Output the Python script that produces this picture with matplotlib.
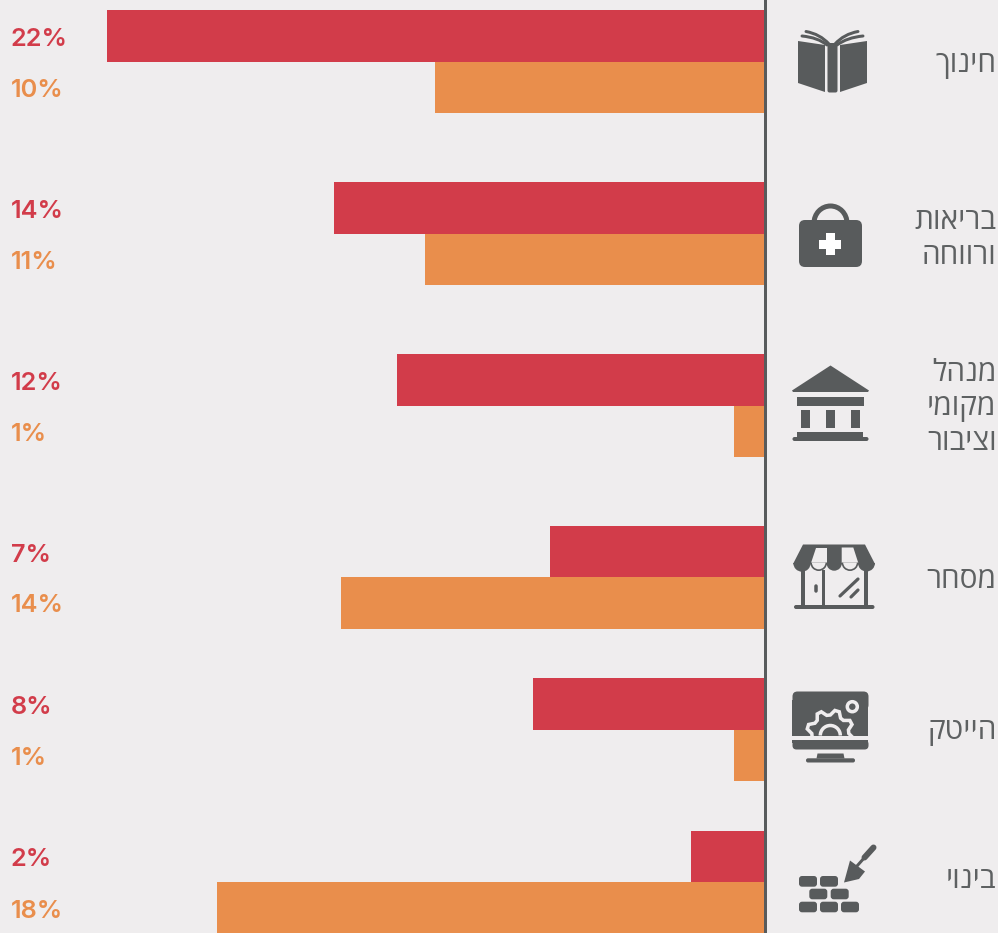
import numpy as np
import matplotlib
matplotlib.use("Agg")
import matplotlib.pyplot as plt
from matplotlib.patches import Polygon, Rectangle, FancyBboxPatch, Circle, Arc, PathPatch, Wedge
from matplotlib.path import Path

# data
categories = [["חינוך"], ["בריאות", "ורווחה"], ["מנהל", "מקומי", "וציבור"], ["מסחר"], ["הייטק"], ["בינוי"]]
red_values = [21.5, 14.1, 12.03, 7.03, 7.58, 2.42]
orange_values = [10.8, 11.1, 1.0, 13.87, 1.0, 17.9]
red_labels = ["22%", "14%", "12%", "7%", "8%", "2%"]
orange_labels = ["10%", "11%", "1%", "14%", "1%", "18%"]

# layout in pixels
W, H = 998, 933
zero_x = 765
px_per_unit = 30.6
group_y = [61.5, 233.5, 405.5, 577, 729.5, 882]
bar_h = 51.5
label_baselines = [[72], [229, 263.5], [381, 415, 449.5], [587.5], [738.5], [887.5]]

BG = "#efedee"
RED = "#d23c4a"
ORANGE = "#e98e4c"
DARK = "#585b5c"
TEXT = "#5e6162"
PT = 0.72  # one pixel in points at dpi 100

fig = plt.figure(figsize=(W / 100, H / 100), dpi=100, facecolor=BG)

# bars: value axis runs to the left, zero on the vertical line
ax = fig.add_axes([0, 0, 1, 1], facecolor=BG)
ax.set_xlim(zero_x / px_per_unit, (zero_x - W) / px_per_unit)
ax.set_ylim(H, 0)
ax.axis("off")
ax.barh(np.array(group_y) - bar_h / 2, red_values, height=bar_h, color=RED, linewidth=0)
ax.barh(np.array(group_y) + bar_h / 2, orange_values, height=bar_h, color=ORANGE, linewidth=0)
ax.axvline(0, color=DARK, linewidth=3 * PT)

# overlay in pixel coordinates for texts and icons
px = fig.add_axes([0, 0, 1, 1])
px.set_xlim(0, W)
px.set_ylim(H, 0)
px.axis("off")
px.patch.set_alpha(0)

for y, r, o in zip(group_y, red_labels, orange_labels):
    px.text(11, y - 22, r, color=RED, fontsize=18.2, family="Inter", weight="semibold", ha="left", va="center")
    px.text(11, y + 29, o, color=ORANGE, fontsize=18.2, family="Inter", weight="semibold", ha="left", va="center")

# hebrew has to be reversed by hand, matplotlib does no bidi
for baselines, lines in zip(label_baselines, categories):
    for b, word in zip(baselines, lines):
        px.text(996.5, b, word[::-1], color=TEXT, fontsize=21.5,
                family=["Open Sans", "Liberation Sans", "DejaVu Sans"], ha="right", va="baseline")


def poly(points, color=DARK):
    px.add_patch(Polygon(points, closed=True, facecolor=color, edgecolor="none"))


def rect(x0, y0, x1, y1, color=DARK):
    px.add_patch(Rectangle((x0, y0), x1 - x0, y1 - y0, facecolor=color, edgecolor="none"))


def rbox(x0, y0, x1, y1, r, color=DARK):
    px.add_patch(FancyBboxPatch((x0 + r, y0 + r), x1 - x0 - 2 * r, y1 - y0 - 2 * r,
                                boxstyle=f"round,pad={r},rounding_size={r}",
                                facecolor=color, edgecolor="none"))


def line(x0, y0, x1, y1, w, color=DARK):
    px.plot([x0, x1], [y0, y1], color=color, linewidth=w * PT, solid_capstyle="round")


def curve(p0, p1, p2, w, color=DARK):
    path = Path([p0, p1, p2], [Path.MOVETO, Path.CURVE3, Path.CURVE3])
    px.add_patch(PathPatch(path, facecolor="none", edgecolor=color, linewidth=w * PT, capstyle="round"))


# book
poly([(798, 41), (825, 45), (825, 92), (798, 83)])
poly([(867, 41), (840, 45), (840, 92), (867, 83)])
rbox(827.5, 43, 837.5, 92.5, 2)
curve((806, 31.5), (820, 34), (829, 44), 3)
curve((802, 36), (818, 37.5), (827, 45), 3)
curve((858, 31.5), (844, 34), (835, 44), 3)
curve((863, 36), (847, 37.5), (837, 45), 3)

# medical bag
rbox(799, 220, 862, 267, 6)
px.add_patch(Arc((830.5, 223), 33, 34, theta1=180, theta2=360, edgecolor=DARK, linewidth=5 * PT))
rect(819.5, 239.5, 841.5, 248.5, "white")
rect(826, 233, 835, 255, "white")

# public building
poly([(830.5, 365.5), (869, 390.5), (868, 392), (793, 392), (792, 390.5)])
rect(797, 397, 864, 405.5)
for cx in (801, 826, 851):
    rect(cx, 410, cx + 9.3, 427.5)
rect(797.5, 432, 863.5, 438)
rbox(792.5, 437, 868.5, 441, 2)

# shop
poly([(803, 544.5), (865, 544.5), (875, 564), (793, 564)])
poly([(815.7, 547.5), (826.7, 547.5), (826.7, 563), (810.7, 563)], BG)
poly([(841.7, 547.5), (853.3, 547.5), (858.3, 563), (841.7, 563)], BG)
for cx, r in [(818.7, 8.5), (850, 8.5)]:
    px.add_patch(Wedge((cx, 562.5), r, 0, 180, facecolor=DARK, edgecolor="none"))
    px.add_patch(Wedge((cx, 562.5), r - 1.7, 0, 180, facecolor=BG, edgecolor="none"))
for cx, r in [(802, 8.7), (834.2, 7.7), (866.5, 8.5)]:
    px.add_patch(Wedge((cx, 563), r, 0, 180, facecolor=DARK, edgecolor="none"))
rect(801, 570, 805, 605)
rect(821.7, 570, 825, 605)
rect(864.3, 570, 867.7, 605)
rbox(794, 605, 874.5, 609, 2)
line(816.5, 586, 816.5, 591, 3.5)
line(840, 596, 858, 579, 3.2)
line(851, 597, 858, 590, 3.2)

# hightech monitor
rbox(792.5, 691.5, 868.5, 710, 5)
rect(792.5, 700, 868.5, 736)
rbox(792.5, 740, 868.5, 749.5, 4)
rect(792.5, 740, 868.5, 743)
poly([(817.5, 753.5), (843.5, 753.5), (844.5, 758.5), (816.5, 758.5)])
rbox(806, 758.3, 855, 762.5, 2)
teeth = 8
angles = np.linspace(0, 2 * np.pi, teeth * 4, endpoint=False) + np.pi / teeth / 2
radii = np.tile([23.5, 23.5, 18.5, 18.5], teeth)
gear_x = 830.3 + radii * np.cos(angles)
gear_y = 733.5 + radii * np.sin(angles)
gear = Polygon(np.column_stack([gear_x, gear_y]), closed=True, facecolor="none", edgecolor=BG, linewidth=3.5 * PT)
px.add_patch(gear)
gear.set_clip_path(Rectangle((792, 691), 77, 44.5, transform=px.transData))
px.add_patch(Arc((830.3, 735.5), 20, 20, theta1=180, theta2=360, edgecolor=BG, linewidth=3.5 * PT))
px.add_patch(Circle((852.3, 706.7), 5, facecolor=DARK, edgecolor=BG, linewidth=3.5 * PT))

# bricks and trowel
for x0, x1 in [(799, 817), (820, 838)]:
    rbox(x0, 876, x1, 886.7, 3)
for x0, x1 in [(809.3, 827.3), (830.7, 848.7)]:
    rbox(x0, 888.7, x1, 899.3, 3)
for x0, x1 in [(799, 817), (820, 838), (841, 859)]:
    rbox(x0, 901.7, x1, 912.3, 3)
poly([(844, 882.5), (850, 860.5), (865, 871.5), (859, 879)])
line(857, 866, 865, 857, 3)
line(864.5, 857.5, 873.5, 847.5, 6)

fig.savefig("out.png", dpi=100, facecolor=BG)
